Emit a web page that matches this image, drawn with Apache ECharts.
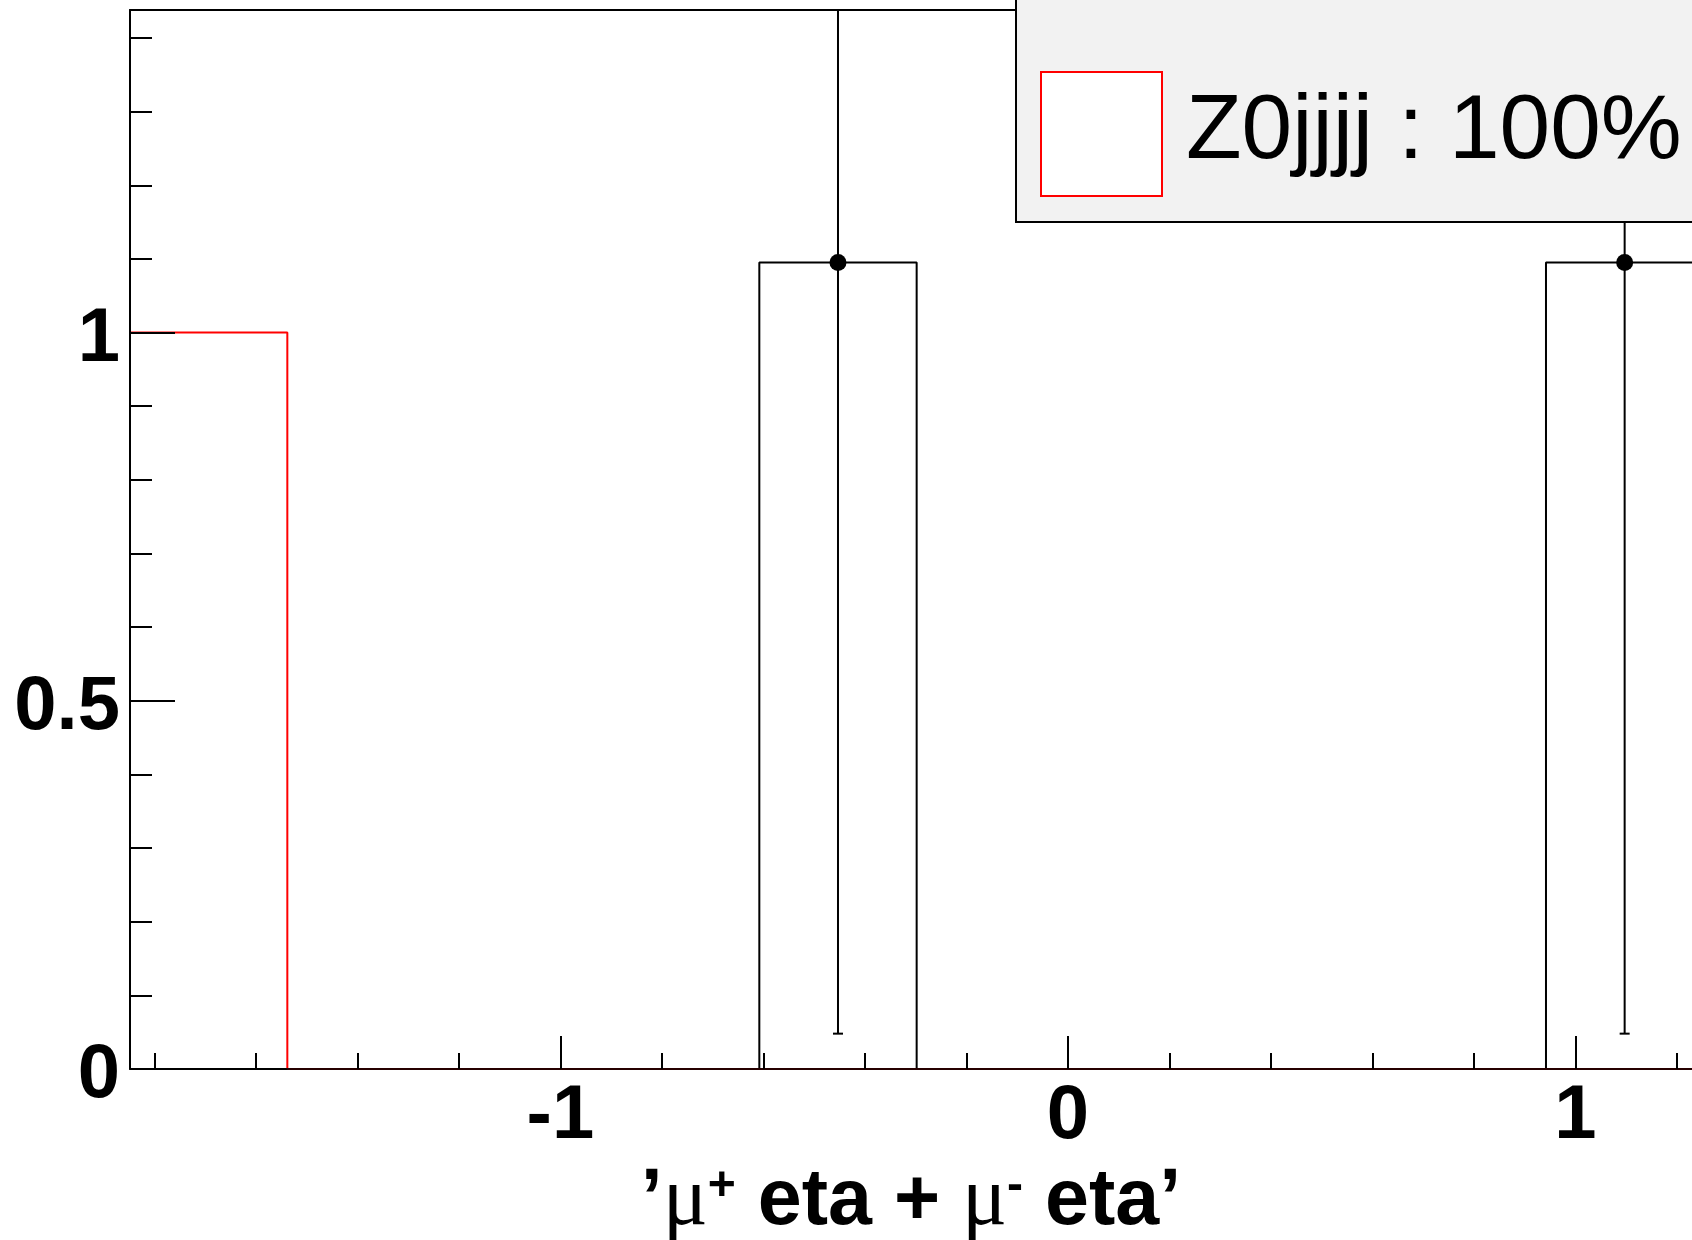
<!DOCTYPE html>
<html>
<head>
<meta charset="utf-8">
<script src="https://cdn.jsdelivr.net/npm/echarts@6/dist/echarts.min.js"></script>
<style>
html,body{margin:0;padding:0;background:#fff;}
#chart{width:1692px;height:1240px;}
</style>
</head>
<body>
<div id="chart"></div>
<script>
// ---- data ----
const binEdges = [-1.848, -1.538, -1.228, -0.918, -0.608, -0.298, 0.012, 0.322, 0.632, 0.942, 1.252, 1.562, 1.872];
const z0jjjjCounts = [1, 0, 0, 0, 0, 0, 0, 0, 0, 0, 0, 0];
const dataCounts   = [0, 0, 0, 0, 1.095, 0, 0, 0, 0, 1.095, 0, 0];
const dataErrors   = [0, 0, 0, 0, 1.047, 0, 0, 0, 0, 1.047, 0, 0];
const xMajorTicks = [-1, 0, 1];
const xMinorTicks = [-1.8, -1.6, -1.4, -1.2, -1.0, -0.8, -0.6, -0.4, -0.2, 0, 0.2, 0.4, 0.6, 0.8, 1.0, 1.2];
const yMajorTicks = [0, 0.5, 1];
const yMinorTicks = [0.1, 0.2, 0.3, 0.4, 0.5, 0.6, 0.7, 0.8, 0.9, 1.0, 1.1, 1.2, 1.3, 1.4];
const xVisibleMax = 1.2297;   // the picture is cut at the right edge
const yMax = 1.438;
const legendLabel = 'Z0jjjj : 100%';

// ---- helpers ----
function stepData(vals) {
  const d = vals.map((v, i) => [binEdges[i], v]);
  d.push([binEdges[binEdges.length - 1], vals[vals.length - 1]]);
  return d;
}
const pointData = [];
dataCounts.forEach((v, i) => {
  if (v > 0) pointData.push([(binEdges[i] + binEdges[i + 1]) / 2, v, dataErrors[i]]);
});

const xMin = binEdges[0], xMax = xVisibleMax;
const labelFont = {fontSize: 76, fontWeight: 'bold', fontFamily: 'Liberation Sans', color: '#000'};
const lineBlack = {color: '#000', width: 2};

const chart = echarts.init(document.getElementById('chart'), null, {renderer: 'canvas'});
chart.setOption({
  animation: false,
  backgroundColor: '#fff',
  grid: {left: 130, top: 10, bottom: 171, right: 0, show: false, containLabel: false, outerBoundsMode: 'none'},
  xAxis: [{
    type: 'value', min: xMin, max: xMax, position: 'bottom', z: 10,
    axisLine: {show: true, onZero: false, lineStyle: {color: '#000', width: 2, opacity: 0.85}},
    axisTick: {show: true, inside: true, length: 33, customValues: xMajorTicks, lineStyle: lineBlack},
    axisLabel: Object.assign({show: true, margin: 10, customValues: xMajorTicks}, labelFont),
    splitLine: {show: false},
    name: '{b|’}{mu|μ}{sup|+}{b| eta + }{mu|μ}{sup|-}{b| eta’}',
    nameLocation: 'middle', nameGap: 80,
    nameTextStyle: {
      fontSize: 79, fontWeight: 'bold', fontFamily: 'Liberation Sans', color: '#000',
      rich: {
        b: {fontSize: 79, lineHeight: 79, fontWeight: 'bold', fontFamily: 'Liberation Sans', color: '#000'},
        mu: {fontSize: 84, lineHeight: 79, fontWeight: 'normal', fontFamily: 'Liberation Serif', color: '#000'},
        sup: {fontSize: 48, lineHeight: 48, fontWeight: 'bold', fontFamily: 'Liberation Sans', color: '#000', verticalAlign: 'top'}
      }
    }
  }, {
    type: 'value', min: xMin, max: xMax, position: 'bottom', z: 10,
    axisLine: {show: false, onZero: false},
    axisTick: {show: true, inside: true, length: 16, customValues: xMinorTicks, lineStyle: lineBlack},
    axisLabel: {show: false},
    splitLine: {show: false}
  }, {
    type: 'value', min: xMin, max: xMax, position: 'top',
    axisLine: {show: true, onZero: false, lineStyle: lineBlack},
    axisTick: {show: false},
    axisLabel: {show: false},
    splitLine: {show: false}
  }],
  yAxis: [{
    type: 'value', min: 0, max: yMax, position: 'left', z: 10,
    axisLine: {show: true, onZero: false, lineStyle: lineBlack},
    axisTick: {show: true, inside: true, length: 45, customValues: yMajorTicks, lineStyle: lineBlack},
    axisLabel: Object.assign({show: true, margin: 10, verticalAlign: 'top', lineHeight: 15, customValues: yMajorTicks}, labelFont),
    splitLine: {show: false}
  }, {
    type: 'value', min: 0, max: yMax, position: 'left', z: 10,
    axisLine: {show: false, onZero: false},
    axisTick: {show: true, inside: true, length: 22, customValues: yMinorTicks, lineStyle: lineBlack},
    axisLabel: {show: false},
    splitLine: {show: false}
  }],
  series: [{
    name: 'data', type: 'line', step: 'end', xAxisIndex: 0, yAxisIndex: 0,
    data: stepData(dataCounts), showSymbol: false, symbol: 'none',
    lineStyle: {color: '#000', width: 2}, z: 3
  }, {
    name: 'Z0jjjj', type: 'line', step: 'end', xAxisIndex: 0, yAxisIndex: 0,
    data: stepData(z0jjjjCounts), showSymbol: false, symbol: 'none',
    lineStyle: {color: '#ff0000', width: 2}, z: 4
  }, {
    name: 'points', type: 'custom', xAxisIndex: 0, yAxisIndex: 0, z: 5,
    data: pointData,
    renderItem: function (params, api) {
      const x = api.value(0), v = api.value(1), e = api.value(2);
      const p = api.coord([x, v]);
      const lo = api.coord([x, v - e]);
      const hi = api.coord([x, v + e]);
      const cs = params.coordSys;
      const top = Math.max(hi[1], cs.y);
      const children = [
        {type: 'line', shape: {x1: p[0], y1: lo[1], x2: p[0], y2: top}, style: {stroke: '#000', lineWidth: 2}},
        {type: 'line', shape: {x1: p[0] - 5, y1: lo[1], x2: p[0] + 5, y2: lo[1]}, style: {stroke: '#000', lineWidth: 2}},
        {type: 'circle', shape: {cx: p[0], cy: p[1], r: 8.5}, style: {fill: '#000'}}
      ];
      if (hi[1] >= cs.y) {
        children.push({type: 'line', shape: {x1: p[0] - 5, y1: hi[1], x2: p[0] + 5, y2: hi[1]}, style: {stroke: '#000', lineWidth: 2}});
      }
      return {type: 'group', children: children};
    }
  }],
  graphic: [{
    type: 'group', z: 100,
    children: [
      {type: 'rect', z: 100, shape: {x: 1016, y: -20, width: 720, height: 242}, style: {fill: '#f2f2f2', stroke: '#000', lineWidth: 2}},
      {type: 'rect', z: 101, shape: {x: 1041, y: 72, width: 121, height: 124}, style: {fill: '#fff', stroke: '#ff0000', lineWidth: 2}},
      {type: 'text', z: 101, x: 1186, y: 133, style: {text: legendLabel, fontSize: 91, fontFamily: 'Liberation Sans', fill: '#000', verticalAlign: 'middle', align: 'left'}}
    ]
  }]
});
</script>
</body>
</html>
